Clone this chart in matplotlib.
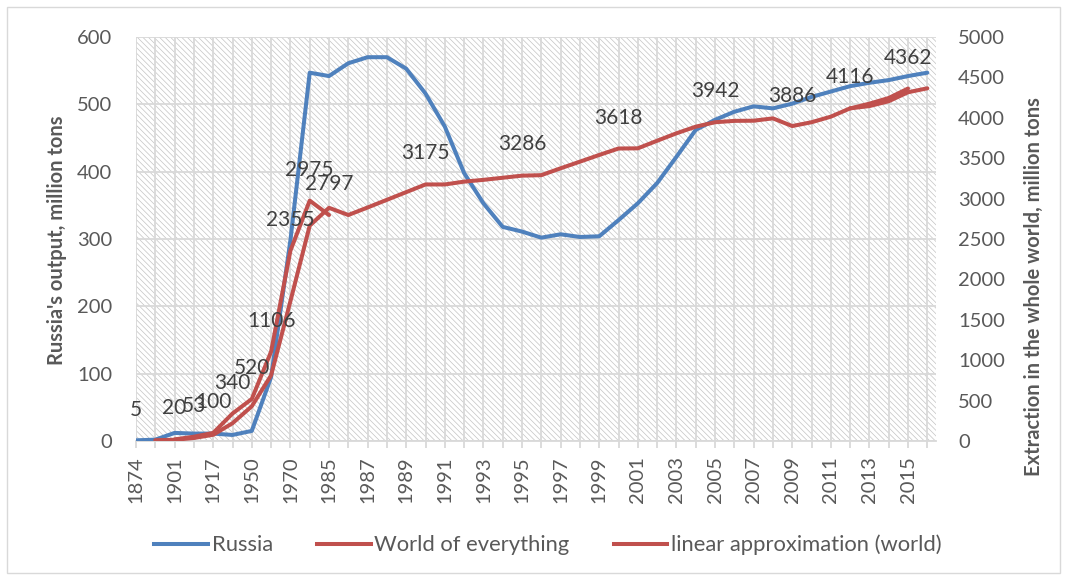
import numpy as np
import matplotlib
matplotlib.use('Agg')
import matplotlib.pyplot as plt
from matplotlib.patches import Rectangle
from matplotlib.lines import Line2D

nan = np.nan

years = ['1874', '1890', '1901', '1913', '1917', '1940', '1950', '1960', '1970', '1980',
         '1985', '1986', '1987', '1988', '1989', '1990', '1991', '1992', '1993', '1994',
         '1995', '1996', '1997', '1998', '1999', '2000', '2001', '2002', '2003', '2004',
         '2005', '2006', '2007', '2008', '2009', '2010', '2011', '2012', '2013', '2014',
         '2015', '2016']

russia = [1, 2, 12, 11, 11, 9, 15, 95, 298, 547, 542, 561, 570, 570, 553, 516, 467, 398,
          353, 318, 311, 302, 307, 303, 304, 328, 353, 383, 422, 462, 477, 489, 497, 494,
          501, 511, 519, 527, 532, 536, 542, 547]

world = [5, nan, 20, 53, 100, 340, 520, 1106, 2355, 2975, 2797, nan, nan, nan, nan, 3175,
         nan, nan, nan, nan, 3286, nan, nan, nan, nan, 3618, nan, nan, nan, nan, 3942,
         nan, nan, nan, 3886, nan, nan, 4116, 4175, 4245, 4362, nan]

# categories whose world value carries a data label
labelled_years = ['1874', '1901', '1913', '1917', '1940', '1950', '1960', '1970', '1980',
                  '1985', '1990', '1995', '2000', '2005', '2009', '2012', '2015']

approx = [nan, 10, 15, 37, 77, 220, 430, 813, 1730, 2665, 2886, 2797, 2890, 2985, 3080,
          3175, 3175, 3210, 3232, 3258, 3284, 3290, 3375, 3457, 3540, 3620, 3622, 3716,
          3808, 3890, 3945, 3962, 3964, 3993, 3898, 3945, 4014, 4117, 4145, 4205, 4316,
          4365]

left_ticks = [0, 100, 200, 300, 400, 500, 600]
right_ticks = [0, 500, 1000, 1500, 2000, 2500, 3000, 3500, 4000, 4500, 5000]

BLUE = '#4F81BD'
RED = '#C0504D'
GRID = '#D9D9D9'
TXT = '#595959'
FS = 14.5
LW = 2.9

plt.rcParams['font.family'] = ['Lato', 'DejaVu Sans']
plt.rcParams['hatch.linewidth'] = 0.5

fig = plt.figure(figsize=(10.67, 5.80), dpi=100)
ax = fig.add_axes([136/1067, 1-441/580, 800/1067, 404/580])
ax2 = ax.twinx()

x = np.arange(len(years))

# hatched plot background
ax.patch.set_facecolor('white')
ax.patch.set_hatch('\\' * 6)
ax.patch.set_edgecolor('#C4C4C4')
ax.patch.set_linewidth(0)

ax.plot(x, russia, color=BLUE, lw=LW, solid_joinstyle='round', solid_capstyle='round', zorder=3)
ax2.plot(x, approx, color=RED, lw=LW, solid_joinstyle='round', solid_capstyle='round', zorder=3)
ax2.plot(x, world, color=RED, lw=LW, solid_joinstyle='round', solid_capstyle='round', zorder=4)

for xi, yr, v in zip(x, years, world):
    if yr in labelled_years and not np.isnan(v):
        ax2.annotate(f'{v:.0f}', (xi, v), xytext=(0, 31), textcoords='offset pixels',
                     ha='center', va='center', fontsize=FS + 0.5, color='#404040', zorder=6)

ax.set_xlim(0, 41.45)
ax.set_ylim(0, 600)
ax2.set_ylim(0, 5000)
ax.set_yticks(left_ticks)
ax2.set_yticks(right_ticks)
ax.set_xticks(x)
ax.set_xticklabels([y if i % 2 == 0 else '' for i, y in enumerate(years)], rotation=90)

ax.grid(True, color=GRID, lw=1.3, zorder=1)
ax.set_axisbelow(True)
for a in (ax, ax2):
    for s in a.spines.values():
        s.set_visible(False)
ax.spines['bottom'].set_visible(True)
ax.spines['bottom'].set_color(GRID)
ax.spines['bottom'].set_linewidth(1.3)

ax.tick_params(axis='x', colors=GRID, length=5, width=1.3, labelsize=FS, labelcolor=TXT, pad=6)
ax.tick_params(axis='y', length=0, labelsize=FS, labelcolor=TXT, pad=17)
ax2.tick_params(axis='y', length=0, labelsize=FS, labelcolor=TXT, pad=16)

fig.text(57/1067, 1-240/580, "Russia's output, million tons", rotation=90, ha='center',
         va='center', fontsize=FS, fontweight='bold', color=TXT)
fig.text(1034/1067, 1-287/580, "Extraction in the whole world, million tons", rotation=90,
         ha='center', va='center', fontsize=FS, fontweight='bold', color=TXT)

handles = [Line2D([], [], color=BLUE, lw=LW), Line2D([], [], color=RED, lw=LW),
           Line2D([], [], color=RED, lw=LW)]
fig.legend(handles, ['Russia', 'World of everything', 'linear approximation (world)'],
           loc='center', bbox_to_anchor=(548/1067, 1-545/580), ncol=3, frameon=False,
           prop={'size': 15.8}, labelcolor=TXT, handlelength=2.45, handletextpad=0.18,
           columnspacing=2.0)

fig.patches.append(Rectangle((7/1067, 7/580), 1053/1067, 566/580, transform=fig.transFigure,
                             fill=False, edgecolor=GRID, lw=1.0))

fig.savefig('out.png', dpi=100)
